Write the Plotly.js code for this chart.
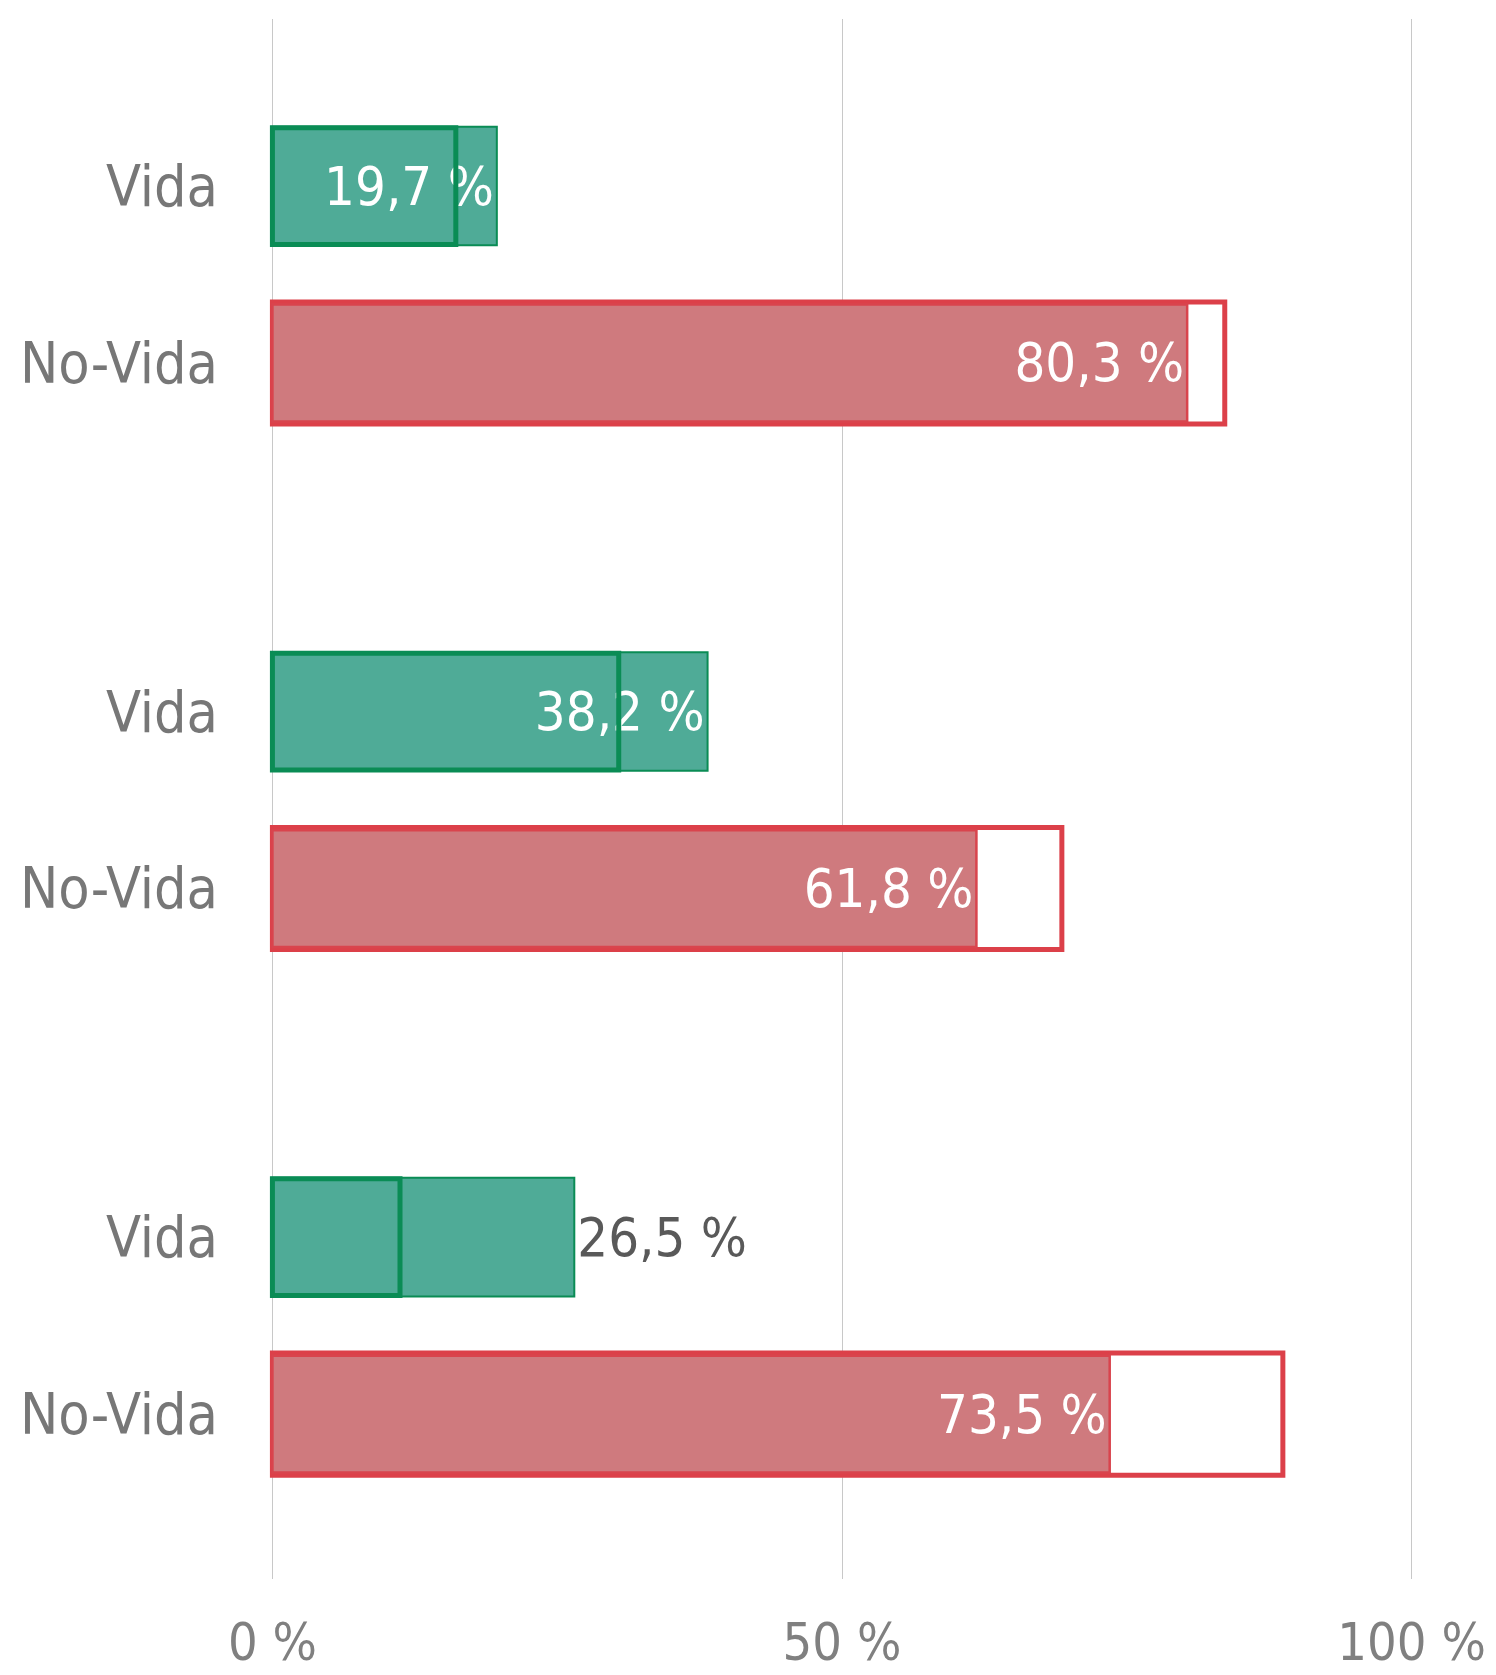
<!DOCTYPE html>
<html>
<head>
<meta charset="utf-8">
<script src="https://cdn.plot.ly/plotly-3.0.1.min.js"></script>
<style>html,body{margin:0;padding:0;background:#fff;}#chart{width:1496px;height:1675px;}</style>
</head>
<body>
<div id="chart"></div>
<script>
// Data
var groups = ["1", "2", "3"];
var vida = [19.7, 38.2, 26.5];
var noVida = [80.3, 61.8, 73.5];
var vidaPrev = [16.1, 30.4, 11.2];
var noVidaPrev = [83.6, 69.3, 88.7];
var catLabels = ["Vida", "No-Vida"];
var xTickVals = [0, 50, 100];
var xTickText = ["0 %", "50 %", "100 %"];

var FONT = "'DejaVu Sans Condensed', 'DejaVu Sans', sans-serif";
var groupStep = 2.97;
var posV = groups.map(function(g, i){ return i * groupStep; });
var posN = groups.map(function(g, i){ return i * groupStep + 1; });
function fmt(v){ return v.toFixed(1).replace('.', ',') + ' %'; }
var barW = 0.69;

var traces = [
  { type: 'bar', orientation: 'h', x: noVidaPrev, y: posN, width: barW,
    marker: { color: '#ffffff', line: { color: '#dc4049', width: 5 } },
    hoverinfo: 'skip', showlegend: false },
  { type: 'bar', orientation: 'h', x: noVida, y: posN, width: barW - 0.03,
    marker: { color: '#cf7a7e', line: { color: '#d9444d', width: 2.5 } },
    text: noVida.map(fmt), textposition: 'inside', insidetextanchor: 'end',
    insidetextfont: { color: '#ffffff', size: 54, family: FONT },
    textangle: 0, constraintext: 'none',
    hoverinfo: 'skip', showlegend: false },
  { type: 'bar', orientation: 'h', x: vida, y: posV, width: barW - 0.02,
    marker: { color: '#4fab97', line: { color: '#0a8c55', width: 2 } },
    text: vida.map(fmt), textposition: ['inside', 'inside', 'outside'], insidetextanchor: 'end',
    insidetextfont: { color: '#ffffff', size: 54, family: FONT },
    outsidetextfont: { color: '#595959', size: 54, family: FONT },
    textangle: 0, constraintext: 'none', cliponaxis: false,
    hoverinfo: 'skip', showlegend: false },
  { type: 'bar', orientation: 'h', x: vidaPrev, y: posV, width: barW - 0.03,
    marker: { color: 'rgba(0,0,0,0)', line: { color: '#0a8c55', width: 5 } },
    hoverinfo: 'skip', showlegend: false }
];

var yVals = [], yText = [];
groups.forEach(function(g, i){ yVals.push(posV[i], posN[i]); yText.push(catLabels[0], catLabels[1]); });

var layout = {
  width: 1496, height: 1675,
  margin: { l: 268.6, r: 81.4, t: 19, b: 96, pad: 0 },
  paper_bgcolor: '#ffffff', plot_bgcolor: '#ffffff',
  barmode: 'overlay',
  font: { family: FONT, color: '#777777' },
  xaxis: {
    range: [-0.3, 100.3], tickvals: xTickVals, ticktext: xTickText,
    showgrid: true, gridcolor: '#c8c8c8', gridwidth: 1, zeroline: false, showline: false,
    ticks: '', tickfont: { size: 52, color: '#808080', family: FONT }, ticklabelstandoff: 28
  },
  yaxis: {
    range: [6.94 + 0.932, -0.944], tickvals: yVals, ticktext: yText,
    showgrid: false, zeroline: false, showline: false, ticks: '',
    tickfont: { size: 57, color: '#777777', family: FONT }, ticklabelstandoff: 50
  }
};

Plotly.newPlot('chart', traces, layout, { displayModeBar: false, staticPlot: true });
</script>
</body>
</html>
